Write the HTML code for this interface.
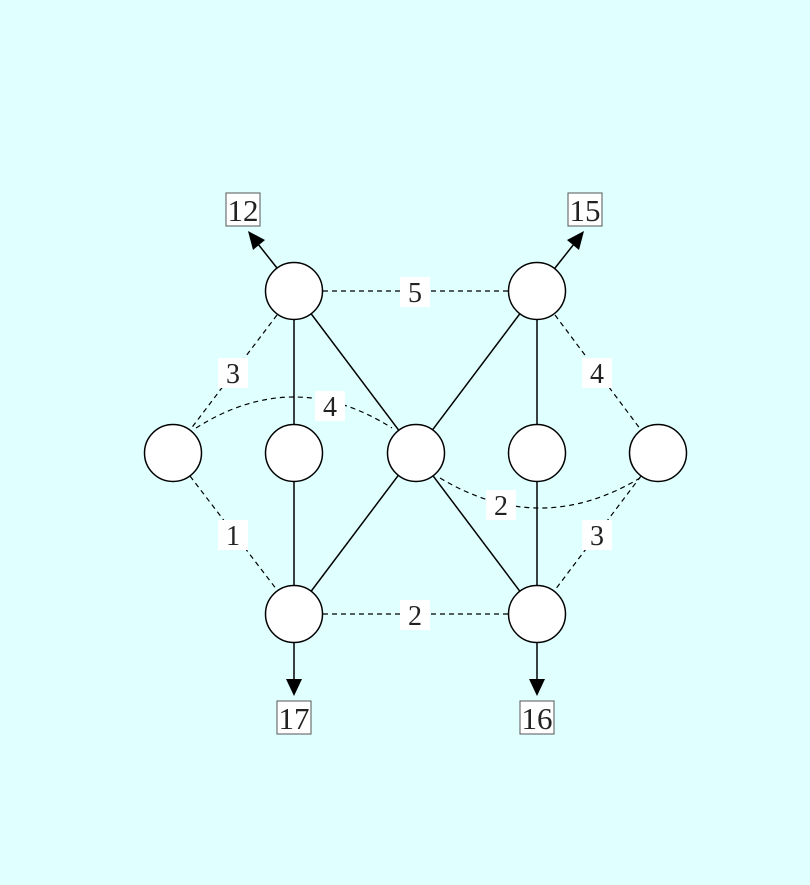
<!DOCTYPE html>
<html><head><style>
body{margin:0;background:#e0ffff;}
svg{display:block}
text{font-family:"Liberation Serif",serif;font-size:28px;fill:#222;text-anchor:middle}
.b{font-size:31px}
</style></head><body>
<svg width="810" height="885" viewBox="0 0 810 885">
<rect width="810" height="885" fill="#e0ffff"/>
<g stroke="#000" stroke-width="1.5" fill="none">
<line x1="294" y1="291" x2="294" y2="614"/>
<line x1="537" y1="291" x2="537" y2="614"/>
<line x1="294" y1="291" x2="537" y2="614"/>
<line x1="537" y1="291" x2="294" y2="614"/>
<line x1="294" y1="643" x2="294" y2="680"/>
<line x1="537" y1="643" x2="537" y2="680"/>
<line x1="277" y1="268" x2="258" y2="244"/>
<line x1="555" y1="268" x2="574" y2="244"/>
</g>
<g fill="#000">
<polygon points="286,679 302,679 294,696"/>
<polygon points="529,679 545,679 537,696"/>
<polygon points="248,231 265,240 253,250"/>
<polygon points="584,231 567,240 579,250"/>
</g>
<g stroke="#000" stroke-width="1.2" fill="none" stroke-dasharray="5,4">
<line x1="323" y1="291" x2="508" y2="291"/>
<line x1="323" y1="614" x2="508" y2="614"/>
<line x1="277" y1="315" x2="190" y2="430"/>
<line x1="190" y1="476" x2="277" y2="590"/>
<line x1="555" y1="315" x2="641" y2="430"/>
<line x1="641" y1="476" x2="555" y2="590"/>
<path d="M196,428 Q294,366 392,428"/>
<path d="M440,478 Q540,538 640,478"/>
</g>
<g fill="#fff">
<rect x="400" y="277" width="30" height="30"/>
<rect x="400" y="600" width="30" height="30"/>
<rect x="218" y="358" width="30" height="30"/>
<rect x="218" y="520" width="30" height="30"/>
<rect x="582" y="358" width="30" height="30"/>
<rect x="582" y="520" width="30" height="30"/>
<rect x="315" y="391" width="30" height="30"/>
<rect x="486" y="490" width="30" height="30"/>
</g>
<g>
<text x="415" y="302">5</text>
<text x="415" y="625">2</text>
<text x="233" y="383">3</text>
<text x="233" y="545">1</text>
<text x="597" y="383">4</text>
<text x="597" y="545">3</text>
<text x="330" y="416">4</text>
<text x="501" y="515">2</text>
</g>
<g fill="#fff" stroke="#000" stroke-width="1.5">
<circle cx="294" cy="291" r="28.5"/>
<circle cx="537" cy="291" r="28.5"/>
<circle cx="173" cy="453" r="28.5"/>
<circle cx="294" cy="453" r="28.5"/>
<circle cx="416" cy="453" r="28.5"/>
<circle cx="537" cy="453" r="28.5"/>
<circle cx="658" cy="453" r="28.5"/>
<circle cx="294" cy="614" r="28.5"/>
<circle cx="537" cy="614" r="28.5"/>
</g>
<g fill="#fff" stroke="#555" stroke-width="1">
<rect x="226" y="193" width="34" height="33"/>
<rect x="568" y="193" width="34" height="33"/>
<rect x="277" y="701" width="34" height="33"/>
<rect x="520" y="701" width="34" height="33"/>
</g>
<g>
<text class="b" x="243" y="221">12</text>
<text class="b" x="585" y="221">15</text>
<text class="b" x="294" y="729">17</text>
<text class="b" x="537" y="729">16</text>
</g>
</svg>
</body></html>
